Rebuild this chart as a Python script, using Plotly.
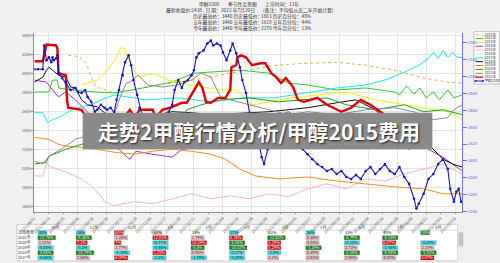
import pandas as pd
import plotly.graph_objects as go

START = pd.Timestamp("2021-08-01")
N_DAYS = 354
FONT = "Noto Sans CJK SC"

# ---------------- series data (day offset from START, price) ----------------
s2011_day = [28, 35, 39, 43, 47, 51, 59, 66, 82, 98, 114, 130, 146, 162, 178, 194, 210, 226, 250, 274, 298, 322, 342, 354]
s2011_val = [3192, 3182, 3161, 3109, 2963, 2859, 2828, 2797, 2828, 2880, 2901, 2932, 2963, 3005, 3036, 3078, 3098, 3109, 3119, 3088, 3036, 2953, 2911, 2901]

s2012_day = [0, 12, 15, 19, 20, 31, 50, 66, 90, 114, 132, 146, 170, 194, 210, 226, 250, 274, 298, 302, 308, 314, 319, 324, 330, 335, 342, 347, 354]
s2012_val = [2807, 2807, 2932, 2932, 2849, 2828, 2807, 2797, 2849, 2911, 3005, 3015, 3036, 3005, 2901, 2880, 2828, 2849, 2807, 2776, 2870, 2786, 2849, 2745, 2807, 2724, 2828, 2745, 2776]

s2013_day = [39, 52, 60, 66, 71, 74, 78, 82, 87, 98, 111, 130, 154, 167, 180, 191, 212, 234, 258, 282, 306, 330, 342, 354]
s2013_val = [2880, 2932, 3036, 3140, 3265, 3275, 3140, 3036, 2963, 3005, 2932, 2880, 2828, 2828, 2672, 2693, 2745, 2776, 2807, 2724, 2672, 2620, 2599, 2516]

s2014_day = [0, 10, 15, 20, 26, 34, 46, 58, 66, 74, 79, 84, 98, 114, 122, 138, 154, 170, 186, 198, 210, 222, 234, 250, 266, 282, 298, 314, 326, 338, 346, 354]
s2014_val = [2932, 2911, 2828, 2755, 2807, 2724, 2568, 2339, 2256, 2152, 2100, 2183, 2152, 2121, 2204, 2225, 2308, 2360, 2433, 2537, 2599, 2516, 2464, 2495, 2433, 2412, 2360, 2308, 2204, 2121, 2048, 1975]

s2015_day = [0, 7, 10, 12, 26, 39, 47, 55, 58, 66, 82, 98, 114, 130, 146, 162, 178, 194, 210, 226, 242, 258, 274, 290, 306, 322, 338, 354]
s2015_val = [1923, 1923, 2069, 2027, 1965, 1892, 1819, 1715, 1653, 1611, 1653, 1632, 1684, 1736, 1684, 1715, 1684, 1736, 1705, 1788, 1840, 1788, 1892, 1871, 1944, 1996, 2048, 1944]

s2017_day = [0, 7, 11, 15, 20, 24, 31, 39, 47, 55, 66, 92, 119, 146, 172, 199, 226, 250, 274, 290, 306, 318, 326, 330, 334, 338, 342, 346, 350, 354]
s2017_val = [2589, 2589, 2485, 2516, 2537, 2568, 2620, 2651, 2672, 2724, 2776, 2724, 2745, 2703, 2745, 2745, 2797, 2849, 2880, 2932, 3015, 3088, 3161, 3223, 3161, 3244, 3171, 3223, 3171, 3171]

s2018_day = [0, 7, 10, 12, 20, 26, 30, 34, 39, 44, 52, 58, 66, 82, 98, 114, 130, 146, 162, 178, 194, 210, 226, 250, 266, 282, 290, 302, 314, 326, 338, 346, 354]
s2018_val = [2911, 2963, 3036, 3067, 2984, 2963, 2859, 2849, 2724, 2672, 2651, 2589, 2547, 2537, 2558, 2599, 2589, 2568, 2578, 2589, 2599, 2620, 2641, 2693, 2724, 2620, 2516, 2412, 2329, 2256, 2100, 2048, 2017]

s2019_day = [0, 12, 20, 28, 39, 52, 66, 82, 98, 114, 130, 146, 158, 170, 183, 202, 226, 250, 274, 298, 322, 338, 354]
s2019_val = [2329, 2308, 2256, 2235, 2225, 2204, 2173, 2152, 2183, 2204, 2183, 2152, 2100, 1996, 1923, 1892, 1913, 1871, 1840, 1809, 1788, 1736, 1736]

s2020_day = [0, 10, 12, 20, 26, 39, 52, 66, 90, 114, 120, 126, 138, 154, 178, 202, 226, 242, 258, 282, 306, 322, 338, 354]
s2020_val = [2048, 2069, 2131, 2173, 2204, 2256, 2308, 2339, 2381, 2412, 2464, 2620, 2672, 2724, 2745, 2703, 2724, 2745, 2672, 2620, 2672, 2599, 2620, 2568]

s2021_day = [0, 7, 12, 22, 34, 46, 50, 55, 60, 66, 71, 76, 79, 86, 94, 106, 118, 130, 138, 146, 154, 162, 178, 194, 210, 226, 250, 274, 298, 314, 330, 342, 347, 354]
s2021_val = [2079, 2048, 2131, 2204, 2308, 2360, 2308, 2412, 2464, 2568, 2755, 2901, 2911, 2984, 2880, 2859, 2880, 2932, 3005, 2963, 2755, 2724, 2672, 2620, 2568, 2599, 2568, 2620, 2641, 2599, 2516, 2537, 2620, 2672]

s2022_day = [0, 7, 10, 18, 19, 20, 26, 27, 28, 39, 47, 52, 60, 66, 74, 79, 83, 87, 98, 100, 106, 112, 122, 126, 136, 139, 142, 146, 152, 158, 162, 163, 167, 168, 171, 175, 180, 187, 191, 196, 200, 204, 208, 214, 218, 223, 234, 242, 254, 262, 270, 278, 286, 294, 300, 304, 308, 310]
s2022_val = [3130, 3130, 3306, 3296, 3265, 3005, 2984, 2724, 2641, 2620, 2464, 2443, 2516, 2495, 2537, 2620, 2537, 2620, 2620, 2537, 2620, 2641, 2693, 2693, 2911, 2849, 2703, 2693, 2745, 2745, 2828, 3067, 3088, 3171, 3192, 3171, 3088, 3109, 3109, 3005, 2963, 2901, 2953, 2859, 2724, 2703, 2745, 2672, 2599, 2641, 2724, 2672, 2599, 2537, 2443, 2308, 2287, 2204]

cur_day = [0, 3, 7, 8, 10, 12, 14, 15, 16, 18, 19, 20, 23, 26, 30, 34, 36, 39, 42, 44, 47, 50, 52, 55, 58, 60, 63, 66, 68, 70, 73, 75, 78, 80, 82, 85, 87, 90, 94, 98, 102, 106, 110, 111, 114, 116, 119, 122, 124, 127, 130, 132, 134, 136, 140, 143, 146, 148, 151, 154, 156, 159, 162, 164, 167, 170, 172, 175, 178, 180, 183, 186, 188, 190, 193, 195, 198, 200, 203, 206, 210, 214, 218, 222, 226, 230, 234, 238, 242, 246, 250, 254, 258, 262, 266, 270, 274, 278, 282, 286, 290, 294, 298, 302, 306, 310, 314, 316, 318, 322, 326, 330, 334, 338, 342, 344, 347, 349, 351, 353]
cur_val = [3046, 3046, 3046, 3296, 3140, 3171, 3119, 3171, 3140, 3161, 3192, 3005, 2953, 2901, 2828, 2849, 2807, 2797, 2828, 2755, 2703, 2599, 2620, 2672, 2641, 2620, 2641, 2589, 2724, 2828, 2984, 3119, 3192, 3088, 2932, 2776, 2641, 2516, 2568, 2537, 2495, 2516, 2568, 2599, 2672, 2828, 2932, 2849, 2911, 2932, 2984, 3036, 3171, 3213, 3244, 3317, 3348, 3296, 3317, 3296, 3223, 3140, 3244, 3317, 3213, 3067, 2932, 2797, 2589, 2537, 2443, 2256, 2121, 2048, 2204, 2308, 2360, 2391, 2329, 2381, 2308, 2329, 2256, 2204, 2152, 2100, 2048, 2017, 1975, 1996, 1944, 1975, 1913, 1892, 1934, 1892, 1975, 2017, 1944, 1996, 2048, 1975, 1944, 2017, 1913, 1840, 1684, 1580, 1632, 1736, 1892, 1944, 2048, 2100, 1996, 1788, 1653, 1757, 1788, 1653]

legend_names = ["2011年", "2012年", "2013年", "2014年", "2015年", "2016年", "2017年",
                "2018年", "2019年", "2020年", "2021年", "2022年", "甲醇2209"]
series_data = {
    "2011年": (s2011_day, s2011_val), "2012年": (s2012_day, s2012_val),
    "2013年": (s2013_day, s2013_val), "2014年": (s2014_day, s2014_val),
    "2015年": (s2015_day, s2015_val), "2017年": (s2017_day, s2017_val),
    "2018年": (s2018_day, s2018_val), "2019年": (s2019_day, s2019_val),
    "2020年": (s2020_day, s2020_val), "2021年": (s2021_day, s2021_val),
    "2022年": (s2022_day, s2022_val), "甲醇2209": (cur_day, cur_val),
}

left_ticks = [1600, 1800, 2000, 2200, 2400, 2600, 2800, 3000, 3200, 3400]
right_ticks = [2340, 2360, 2380, 2400, 2420, 2440, 2460, 2480, 2500, 2520, 2540]
tick_dates = list(pd.date_range(START, periods=30, freq="12D"))
tick_labels = [d.strftime("%Y/%m/%d") for d in tick_dates]

# ---------------- table data ----------------
months = ["10月", "11月", "12月", "1月", "2月", "3月", "4月", "5月", "6月", "7月", "8月"]
row_labels = ["上涨概率", "2021年", "2020年", "2019年", "2018年", "2017年"]
prob_row = ["30%", "36%", "60%", "60%", "33%", "27%", "33%", "36%", "33%", "40%", "50%"]
r2021 = ["-22.76%", "-9.36%", "1.26%", "12.03%", "1.79%", "6.76%", "-12.62%", "4.36%", "-6.79%", "-8.53%", ""]
r2020 = ["1.52%", "7.3%", "7%", "-0.77%", "10.29%", "-6.88%", "5.29%", "4.04%", "-0.12%", "6.07%", "-0.39%"]
r2019 = ["-0.84%", "-0.2%", "1.77%", "-0.46%", "-6.4%", "-10.02%", "5.29%", "-5.39%", "3.73%", "-1.54%", "2.15%"]
r2018 = ["-8.98%", "-10.79%", "-0.16%", "5.25%", "0.06%", "-0.27%", "-2.8%", "0.39%", "-6.59%", "-6.94%", "-5.52%"]
r2017 = ["-0.66%", "1.68%", "6.09%", "-1.2%", "-1.79%", "-0.29%", "3.5%", "2.81%", "2.94%", "4.05%", "8.07%"]
table_rows = [prob_row, r2021, r2020, r2019, r2018, r2017]

header_lines = [
    ("甲醇2209", "季节性走势图", "上市时间：11年"),
    ("最新收盘价:2438 , 日 期：2022 年7月20日", "(备注：平均值从近二年开始计算)"),
    ("历史最高价：3440 历史最低价：", "1863 历史百分位：48%"),
    ("五年最高价：3440 五年最低价：", "1619 五年百分位：44%"),
    ("今年最高价：3440 今年最低价：", "2278 今年百分位：13%"),
]
overlay_title = "走势2甲醇行情分析/甲醇2015费用"

# ---------------- styles ----------------
style = {
    "2011年": dict(color="#f4a24a", width=1, dash="dot"),
    "2012年": dict(color="#2fcc2f", width=1, dash="solid"),
    "2013年": dict(color="#f2f000", width=1, dash="solid"),
    "2014年": dict(color="#9a30d0", width=1, dash="solid"),
    "2015年": dict(color="#f7b4c6", width=1, dash="solid"),
    "2016年": dict(color="#dcdcdc", width=1, dash="solid"),
    "2017年": dict(color="#19e6ee", width=1, dash="solid"),
    "2018年": dict(color="#111111", width=1, dash="solid"),
    "2019年": dict(color="#f08c1e", width=1, dash="solid"),
    "2020年": dict(color="#1e9e1e", width=1, dash="solid"),
    "2021年": dict(color="#8c8c8c", width=1, dash="solid"),
    "2022年": dict(color="#e00000", width=2.4, dash="solid"),
    "甲醇2209": dict(color="#1414c8", width=1.1, dash="solid"),
}
cell_fill = {"c": "#3ee4ea", "g": "#0b780b", "r": "#d40000", "p": "#f6c8c8", "": None}
prob_style = ["c", "c", "r", "p", "", "c", "", "c", "", "", "g"]


def val_style(t):
    if not t:
        return ""
    v = float(t.rstrip("%"))
    if v >= 5:
        return "r"
    if v >= 0:
        return "p"
    if v > -5:
        return "c"
    return "g"


W, H = 500, 263
def px_x(p): return p / W
def px_y(p): return (H - p) / H

fig = go.Figure()

# main series
for name in legend_names:
    if name not in series_data:
        continue
    d, v = series_data[name]
    st = style[name]
    xs = [START + pd.Timedelta(days=k) for k in d]
    is_cur = name == "甲醇2209"
    fig.add_trace(go.Scatter(
        x=xs, y=v, mode="lines+markers" if is_cur else "lines", name=name,
        line=dict(color=st["color"], width=st["width"], dash=st["dash"]),
        marker=dict(size=2.6, color=st["color"]) if is_cur else None,
        xaxis="x", yaxis="y", hoverinfo="skip"))

# invisible trace enabling right axis
fig.add_trace(go.Scatter(x=[START], y=[right_ticks[5]], mode="markers",
                         marker=dict(opacity=0), xaxis="x", yaxis="y2", hoverinfo="skip"))

# ---------------- legend (manual) ----------------
for i, name in enumerate(legend_names):
    st = style[name]
    fig.add_trace(go.Scatter(
        x=[0.06, 0.36], y=[i, i], mode="lines+markers" if name == "甲醇2209" else "lines",
        line=dict(color=st["color"], width=min(st["width"], 1.2), dash=st["dash"]),
        marker=dict(size=2, color=st["color"]), xaxis="x4", yaxis="y4", hoverinfo="skip"))
fig.add_trace(go.Scatter(
    x=[0.42] * len(legend_names), y=list(range(len(legend_names))), mode="text",
    text=legend_names, textposition="middle right",
    textfont=dict(size=3.6, color="#333", family=FONT), xaxis="x4", yaxis="y4", hoverinfo="skip"))

# ---------------- table ----------------
bar_y, bar_x, bar_base, bar_col = [], [], [], []
txt_x, txt_y, txt_t, txt_c = [], [], [], []
for r, row in enumerate(table_rows):
    for c, t in enumerate(row):
        code = prob_style[c] if r == 0 else val_style(t)
        if t:
            txt_x.append(c + 0.06)
            txt_y.append(r + 1)
            txt_t.append(t)
            txt_c.append("#ffffff" if code in ("g", "r") else "#222222")
        if t and cell_fill[code]:
            bar_y.append(r + 1)
            bar_base.append(c + 0.04)
            bar_x.append((len(t) * 2.25 + 2.5) / 39.6)
            bar_col.append(cell_fill[code])
fig.add_trace(go.Bar(orientation="h", y=bar_y, x=bar_x, base=bar_base, width=0.8,
                     marker=dict(color=bar_col, line=dict(color="#666", width=0.3)),
                     xaxis="x3", yaxis="y3", hoverinfo="skip"))
fig.add_trace(go.Scatter(x=txt_x, y=txt_y, text=txt_t, mode="text", textposition="middle right",
                         textfont=dict(size=4, color=txt_c, family=FONT),
                         xaxis="x3", yaxis="y3", hoverinfo="skip"))
fig.add_trace(go.Scatter(x=[c + 0.5 for c in range(len(months))], y=[0] * len(months), text=months,
                         mode="text", textposition="middle center",
                         textfont=dict(size=4, color="#333", family=FONT),
                         xaxis="x3", yaxis="y3", hoverinfo="skip"))
fig.add_trace(go.Scatter(x=[-0.48] * len(row_labels), y=list(range(1, len(row_labels) + 1)), text=row_labels,
                         mode="text", textposition="middle right",
                         textfont=dict(size=4, color="#333", family=FONT),
                         xaxis="x3", yaxis="y3", hoverinfo="skip"))

shapes = []
# table background and grid
shapes.append(dict(type="rect", xref="paper", yref="paper", x0=0, x1=px_x(456), y0=0, y1=px_y(226),
                   fillcolor="white", line=dict(color="#b0b0b0", width=0.6), layer="below"))
for c in range(0, len(months) + 1):
    shapes.append(dict(type="line", xref="x3", yref="y3", x0=c, x1=c, y0=-0.62, y1=0.5,
                       line=dict(color="#b8b8b8", width=0.5)))
shapes.append(dict(type="line", xref="x3", yref="y3", x0=-0.505, x1=11, y0=0.5, y1=0.5,
                   line=dict(color="#b8b8b8", width=0.5)))
# scrollbar
shapes.append(dict(type="rect", xref="paper", yref="paper", x0=px_x(456), x1=px_x(463), y0=0, y1=px_y(226),
                   fillcolor="#ececec", line=dict(width=0)))
shapes.append(dict(type="rect", xref="paper", yref="paper", x0=px_x(457), x1=px_x(462), y0=px_y(248), y1=px_y(234),
                   fillcolor="#c4c4c4", line=dict(width=0)))
# legend box
shapes.append(dict(type="rect", xref="paper", yref="paper", x0=px_x(473), x1=px_x(499.5), y0=px_y(84), y1=px_y(31),
                   fillcolor="white", line=dict(color="#9a9a9a", width=0.6), layer="below"))
# overlay title box
shapes.append(dict(type="rect", xref="paper", yref="paper", x0=px_x(68), x1=px_x(430), y0=px_y(150), y1=px_y(113),
                   fillcolor="#8a8a8a", line=dict(width=0), layer="above"))

annotations = []
hx = [[186, 216, 255], [152, 253], [180, 250], [180, 250], [180, 250]]
hy = [3.5, 9.5, 15.5, 21.5, 27.5]
for li, parts in enumerate(header_lines):
    for pi, t in enumerate(parts):
        annotations.append(dict(text=t, x=px_x(hx[li][pi]), y=px_y(hy[li]), xref="paper", yref="paper",
                                xanchor="left", yanchor="middle", showarrow=False,
                                font=dict(size=4.8, color="#333", family=FONT)))
annotations.append(dict(text="<b>" + overlay_title + "</b>", x=px_x(250), y=px_y(131.5), xref="paper", yref="paper",
                        xanchor="center", yanchor="middle", showarrow=False,
                        font=dict(size=21, color="white", family=FONT, shadow="1px 1px 2px #222")))

minor_grid = [START + pd.Timedelta(days=12 * k) for k in range(1, 30, 2)]

fig.update_layout(
    width=W, height=H, margin=dict(l=0, r=0, t=0, b=0),
    paper_bgcolor="#f0f0f0", plot_bgcolor="white", showlegend=False,
    font=dict(family=FONT, size=4.2, color="#555"),
    shapes=shapes, annotations=annotations, barmode="overlay",
    xaxis=dict(domain=[px_x(18), px_x(461)], type="date",
               range=[START, START + pd.Timedelta(days=N_DAYS)],
               tickvals=tick_dates, ticktext=tick_labels, tickangle=-45,
               tickfont=dict(size=4, color="#555"), showgrid=False,
               minor=dict(tickvals=minor_grid, showgrid=True, gridcolor="#e4e4e4", gridwidth=0.6, ticklen=0),
               showline=True, linecolor="#909090", linewidth=0.8, ticks="outside", ticklen=2,
               tickcolor="#909090", anchor="y", zeroline=False),
    yaxis=dict(domain=[px_y(213), px_y(32)], range=[1549, 3431], tickvals=left_ticks,
               tickfont=dict(size=4, color="#555"), showgrid=True, gridcolor="#e4e4e4", gridwidth=0.6,
               showline=True, linecolor="#909090", linewidth=0.8, ticks="outside", ticklen=2,
               tickcolor="#909090", anchor="x", zeroline=False),
    yaxis2=dict(overlaying="y", side="right", anchor="x", range=[2340, 2552], tickvals=right_ticks,
                tickfont=dict(size=4, color="#5a5ae0"), showgrid=False, showline=True,
                linecolor="#7070e8", linewidth=0.8, ticks="outside", ticklen=4, tickcolor="#7070e8",
                zeroline=False),
    xaxis3=dict(domain=[0, px_x(456)], range=[-0.505, 11], visible=False, anchor="y3", fixedrange=True),
    yaxis3=dict(domain=[0, px_y(226)], range=[6.62, -0.62], visible=False, anchor="x3", fixedrange=True),
    xaxis4=dict(domain=[px_x(473), px_x(499)], range=[0, 1], visible=False, anchor="y4"),
    yaxis4=dict(domain=[px_y(84), px_y(31)], range=[12.8, -0.8], visible=False, anchor="x4"),
)

fig.write_html("out.html")
